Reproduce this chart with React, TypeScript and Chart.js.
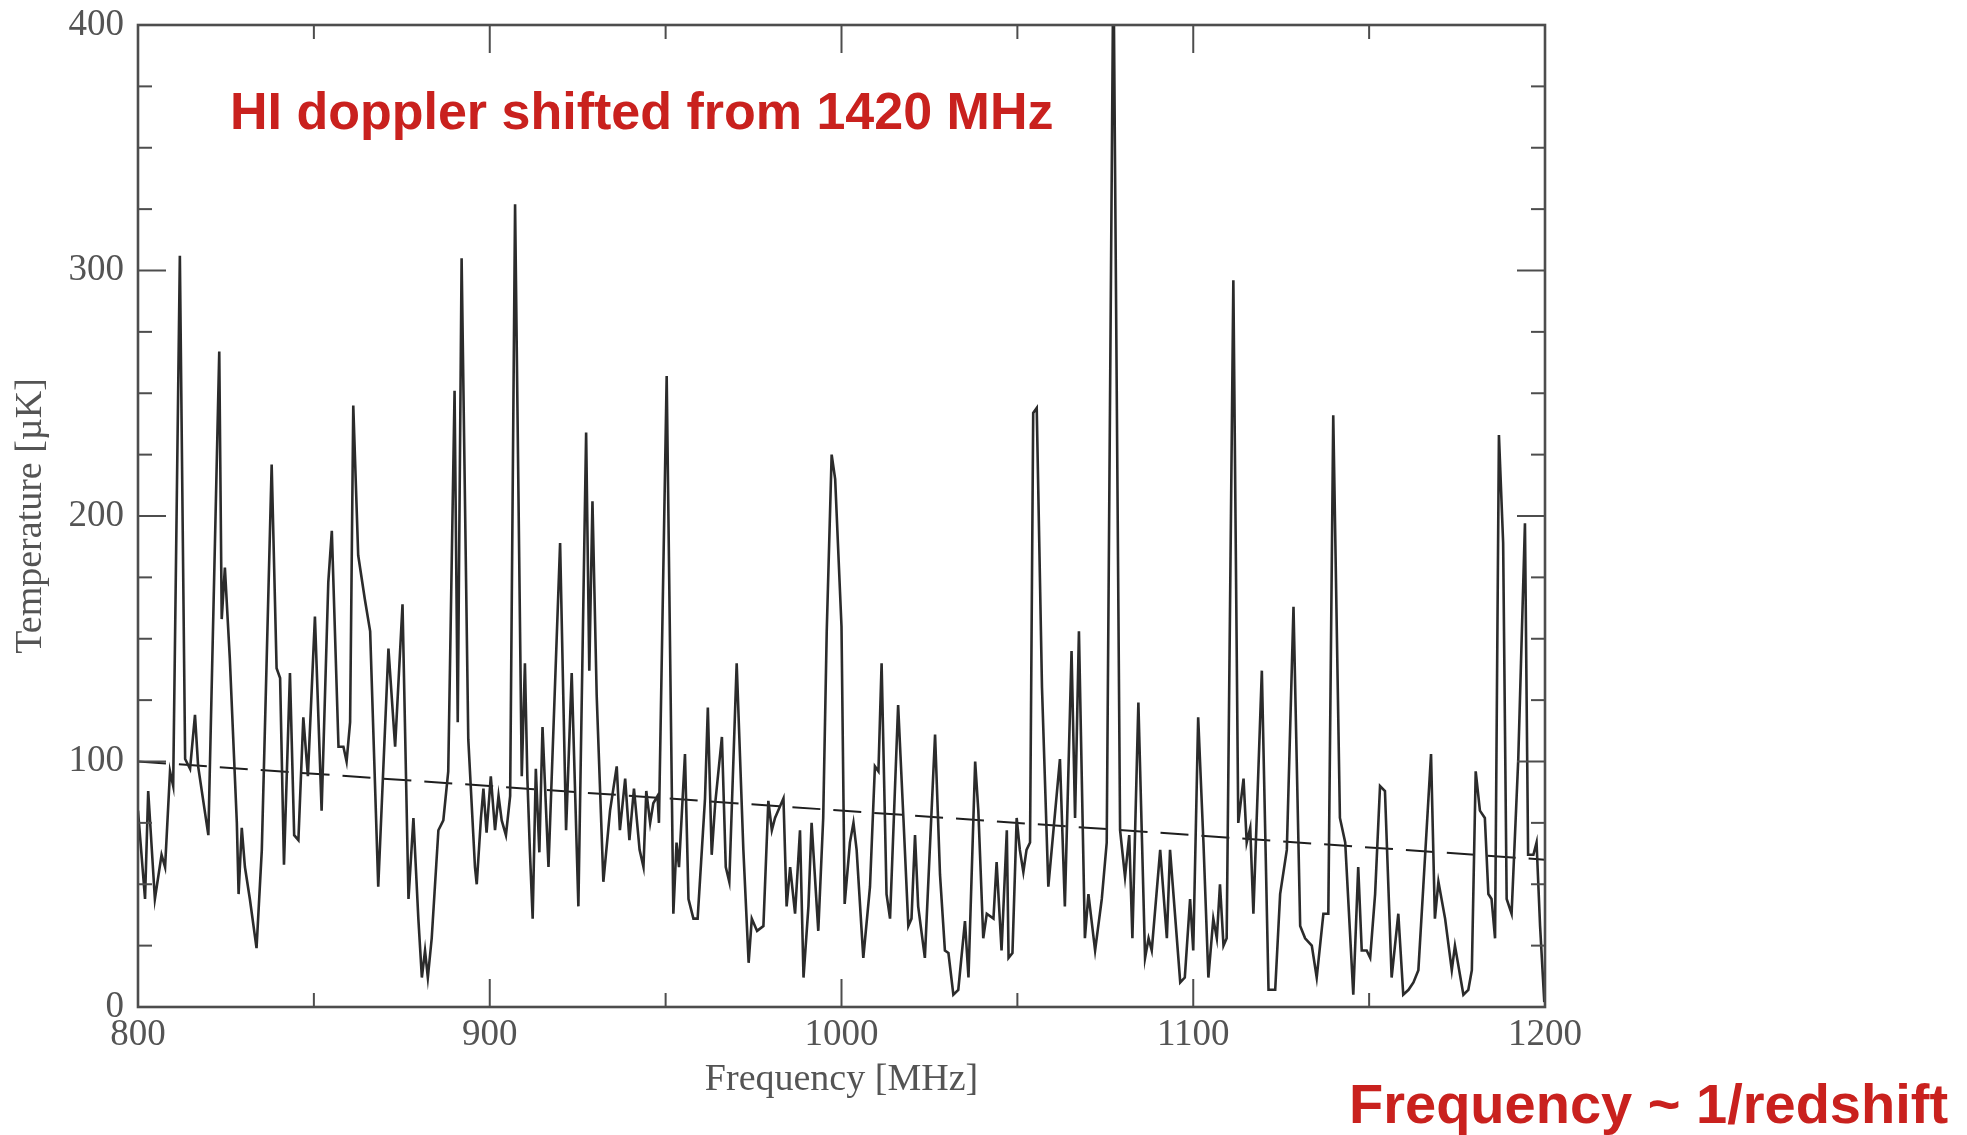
import React, { useEffect, useRef } from "react";
import { Chart, registerables } from "chart.js";

Chart.register(...registerables);

// ---- data ----
const FREQ_MHZ = [
  800.0, 802.0, 802.9, 804.8, 806.7, 807.7, 809.1, 810.0, 811.9, 813.4, 814.8, 816.2, 817.1, 820.0,
  823.1, 823.8, 824.7, 826.1, 828.1, 828.6, 829.5, 830.4, 831.8, 833.7, 835.2, 838.0, 839.4, 840.4,
  841.5, 843.2, 844.4, 845.6, 847.0, 848.3, 850.3, 852.2, 854.1, 855.1, 857.0, 858.4, 859.3, 860.3,
  861.2, 862.6, 864.5, 866.0, 868.3, 871.2, 873.1, 875.2, 876.9, 878.3, 879.7, 880.7, 881.6, 882.4,
  883.5, 885.4, 886.8, 888.2, 890.0, 890.9, 892.0, 893.9, 895.8, 896.3, 897.5, 898.2, 899.1, 900.3,
  901.5, 902.5, 903.4, 904.6, 905.8, 907.2, 909.1, 910.0, 910.7, 911.4, 912.2, 913.1, 914.1, 915.0,
  916.7, 920.0, 921.7, 923.3, 925.2, 927.4, 928.3, 929.2, 930.4, 932.3, 934.2, 936.1, 937.0, 938.5,
  939.7, 941.0, 942.6, 943.7, 944.5, 945.6, 946.5, 947.7, 948.1, 950.3, 952.2, 953.1, 953.8, 955.5,
  956.5, 957.9, 959.1, 961.2, 962.0, 963.1, 964.1, 966.0, 967.1, 968.1, 970.2, 972.1, 973.6, 974.5,
  976.0, 977.8, 979.2, 980.2, 981.1, 983.5, 984.4, 985.4, 986.8, 988.2, 989.2, 990.6, 991.5, 993.4,
  994.8, 995.8, 997.2, 998.2, 1000.0, 1000.9, 1002.4, 1003.4, 1004.3, 1006.2, 1008.1, 1009.5, 1010.5,
  1011.4, 1012.8, 1013.8, 1016.1, 1017.6, 1019.0, 1019.9, 1020.9, 1021.8, 1023.7, 1026.6, 1028.0,
  1029.4, 1030.4, 1031.8, 1033.2, 1035.1, 1036.1, 1038.0, 1038.9, 1040.3, 1041.3, 1043.2, 1044.1,
  1045.5, 1047.0, 1047.5, 1048.6, 1049.8, 1050.7, 1051.7, 1052.6, 1053.6, 1054.5, 1055.5, 1057.0,
  1058.8, 1062.1, 1063.5, 1065.4, 1066.4, 1067.5, 1069.2, 1070.2, 1072.1, 1074.0, 1075.4, 1077.3,
  1079.2, 1080.6, 1081.8, 1082.7, 1084.4, 1086.3, 1087.3, 1088.2, 1090.6, 1092.5, 1093.4, 1096.3,
  1097.6, 1099.1, 1100.0, 1101.4, 1102.9, 1104.3, 1105.7, 1106.7, 1107.6, 1108.6, 1109.5, 1111.4,
  1112.8, 1114.3, 1115.2, 1116.2, 1117.1, 1119.5, 1121.4, 1123.3, 1124.7, 1126.6, 1128.5, 1130.4,
  1131.8, 1133.7, 1135.1, 1137.0, 1138.4, 1139.8, 1141.7, 1143.2, 1145.5, 1146.9, 1147.9, 1149.3,
  1150.3, 1151.7, 1153.1, 1154.5, 1156.4, 1158.3, 1159.7, 1161.2, 1162.6, 1164.0, 1165.4, 1167.6,
  1168.7, 1169.7, 1171.6, 1173.5, 1174.4, 1176.8, 1178.2, 1179.2, 1180.3, 1181.5, 1182.9, 1183.9,
  1184.8, 1185.8, 1186.9, 1188.1, 1189.1, 1190.5, 1192.4, 1194.3, 1195.2, 1196.7, 1197.6, 1198.6,
  1199.8,
];

const TEMP_UK = [
  80, 44, 88, 44, 62, 57, 96, 90, 306, 101, 97, 119, 98, 70,
  267, 158, 179, 142, 75, 46, 73, 57, 44, 24, 64, 221, 138, 134,
  58, 136, 70, 68, 118, 94, 159, 80, 173, 194, 106, 106, 100, 116,
  245, 184, 166, 153, 49, 146, 106, 164, 44, 77, 36, 12, 23, 12,
  28, 72, 76, 96, 251, 116, 305, 109, 57, 50, 77, 89, 71, 94,
  72, 86, 76, 70, 86, 327, 94, 140, 93, 64, 36, 97, 63, 114,
  57, 189, 72, 136, 41, 234, 137, 206, 127, 51, 80, 98, 72, 93,
  68, 89, 64, 57, 88, 75, 83, 86, 75, 257, 38, 67, 57, 103,
  44, 36, 36, 85, 122, 62, 83, 110, 57, 51, 140, 64, 18, 36,
  31, 33, 84, 72, 77, 85, 41, 57, 38, 72, 12, 41, 75, 31,
  77, 153, 225, 215, 155, 42, 67, 75, 64, 20, 49, 98, 96,
  140, 46, 36, 123, 77, 33, 36, 70, 41, 20, 111, 54,
  23, 22, 5, 7, 35, 12, 100, 80, 28, 38, 36, 59,
  23, 72, 20, 22, 77, 64, 55, 64, 67, 242, 244, 130,
  49, 101, 41, 145, 77, 153, 28, 46, 23, 44, 67, 430,
  72, 53, 70, 28, 124, 20, 28, 23, 64, 28, 64, 10,
  12, 44, 23, 118, 67, 12, 36, 28, 50, 25, 28, 296,
  75, 93, 67, 73, 38, 137, 7, 7, 46, 64, 163, 33,
  28, 25, 12, 38, 38, 241, 77, 67, 5, 57, 23, 23,
  20, 46, 90, 88, 12, 38, 5, 7, 10, 15, 49, 103,
  36, 51, 36, 15, 25, 5, 7, 15, 96, 80, 77, 46,
  44, 28, 233, 189, 44, 38, 101, 197, 62, 62, 67, 33,
  2,
];

const FIT_FREQ = [800, 1200];
const FIT_TEMP = [100, 60];

const X_MAJOR = [800, 900, 1000, 1100, 1200];
const X_MINOR = [850, 950, 1050, 1150];
const Y_MAJOR = [0, 100, 200, 300, 400];
const Y_MINOR = [25, 50, 75, 125, 150, 175, 225, 250, 275, 325, 350, 375];

const TITLE_TEXT = "HI doppler shifted from 1420 MHz";
const NOTE_TEXT = "Frequency ~ 1/redshift";
const X_TITLE = "Frequency [MHz]";
const Y_TITLE = "Temperature [\u00B5K]";

const AXIS_GRAY = "#4d4d4d";
const TEXT_GRAY = "#545454";
const SERIF = "'Liberation Serif', 'DejaVu Serif', serif";

const framePlugin = {
  id: "frameTicks",
  afterDraw(chart: any) {
    const { ctx, chartArea: a, scales } = chart;
    const xs = scales.x;
    const ys = scales.y;
    ctx.save();
    ctx.strokeStyle = AXIS_GRAY;
    ctx.lineWidth = 2;
    const seg = (x1: number, y1: number, x2: number, y2: number) => {
      ctx.beginPath();
      ctx.moveTo(x1, y1);
      ctx.lineTo(x2, y2);
      ctx.stroke();
    };
    const major = 28;
    const minor = 14;
    X_MAJOR.forEach((v) => {
      const p = xs.getPixelForValue(v);
      seg(p, a.bottom, p, a.bottom - major);
      seg(p, a.top, p, a.top + major);
    });
    X_MINOR.forEach((v) => {
      const p = xs.getPixelForValue(v);
      seg(p, a.bottom, p, a.bottom - minor);
      seg(p, a.top, p, a.top + minor);
    });
    Y_MAJOR.forEach((v) => {
      const p = ys.getPixelForValue(v);
      seg(a.left, p, a.left + major, p);
      seg(a.right, p, a.right - major, p);
    });
    Y_MINOR.forEach((v) => {
      const p = ys.getPixelForValue(v);
      seg(a.left, p, a.left + minor, p);
      seg(a.right, p, a.right - minor, p);
    });
    ctx.lineWidth = 2.6;
    ctx.strokeRect(a.left, a.top, a.right - a.left, a.bottom - a.top);
    ctx.restore();
  },
};

export default function App() {
  const canvasRef = useRef<HTMLCanvasElement | null>(null);

  useEffect(() => {
    const canvas = canvasRef.current;
    if (!canvas) return;
    const spectrum = FREQ_MHZ.map((f, i) => ({ x: f, y: TEMP_UK[i] }));
    const fit = FIT_FREQ.map((f, i) => ({ x: f, y: FIT_TEMP[i] }));

    const chart = new Chart(canvas, {
      type: "line",
      data: {
        datasets: [
          {
            label: "spectrum",
            data: spectrum,
            borderColor: "#2b2b2b",
            borderWidth: 2.6,
            pointRadius: 0,
            tension: 0,
            fill: false,
          },
          {
            label: "mean",
            data: fit,
            borderColor: "#1e1e1e",
            borderWidth: 2,
            borderDash: [28, 13],
            pointRadius: 0,
            tension: 0,
            fill: false,
          },
        ],
      },
      options: {
        animation: false,
        responsive: false,
        devicePixelRatio: 1,
        parsing: false,
        layout: { padding: { top: 25, right: 422, bottom: 0, left: 0 } },
        plugins: {
          legend: { display: false },
          tooltip: { enabled: false },
          title: { display: false },
        },
        scales: {
          x: {
            type: "linear",
            min: 800,
            max: 1200,
            afterFit: (s: any) => {
              s.height = 128;
              s.paddingLeft = 0;
              s.paddingRight = 0;
            },
            grid: { display: false, drawTicks: false },
            border: { display: false },
            ticks: {
              stepSize: 100,
              autoSkip: false,
              maxRotation: 0,
              padding: 6,
              color: TEXT_GRAY,
              font: { family: SERIF, size: 37 },
              callback: (v: any) => String(v),
            },
            title: {
              display: true,
              text: X_TITLE,
              color: TEXT_GRAY,
              font: { family: SERIF, size: 38 },
              padding: { top: 0, bottom: 32 },
            },
          },
          y: {
            type: "linear",
            min: 0,
            max: 400,
            afterFit: (s: any) => {
              s.width = 138;
              s.paddingTop = 0;
              s.paddingBottom = 0;
            },
            grid: { display: false, drawTicks: false },
            border: { display: false },
            ticks: {
              stepSize: 100,
              autoSkip: false,
              padding: 14,
              color: TEXT_GRAY,
              font: { family: SERIF, size: 37 },
              callback: (v: any) => String(v),
            },
            title: {
              display: true,
              text: Y_TITLE,
              color: TEXT_GRAY,
              font: { family: SERIF, size: 38 },
              padding: { top: 8, bottom: 0 },
            },
          },
        },
      },
      plugins: [framePlugin],
    });

    return () => chart.destroy();
  }, []);

  const red = "#c9211e";
  return (
    <div
      style={{
        position: "fixed",
        left: 0,
        top: 0,
        width: 1967,
        height: 1135,
        background: "#ffffff",
        overflow: "hidden",
      }}
    >
      <canvas ref={canvasRef} width={1967} height={1135} style={{ display: "block" }} />
      <div
        style={{
          position: "absolute",
          left: 230,
          top: 85,
          fontFamily: "'Liberation Sans', Arial, sans-serif",
          fontWeight: 700,
          fontSize: 52,
          lineHeight: "52px",
          color: red,
          whiteSpace: "nowrap",
        }}
      >
        {TITLE_TEXT}
      </div>
      <div
        style={{
          position: "absolute",
          left: 1349,
          top: 1076,
          fontFamily: "'Liberation Sans', Arial, sans-serif",
          fontWeight: 700,
          fontSize: 56,
          lineHeight: "56px",
          color: red,
          whiteSpace: "nowrap",
        }}
      >
        {NOTE_TEXT}
      </div>
    </div>
  );
}
